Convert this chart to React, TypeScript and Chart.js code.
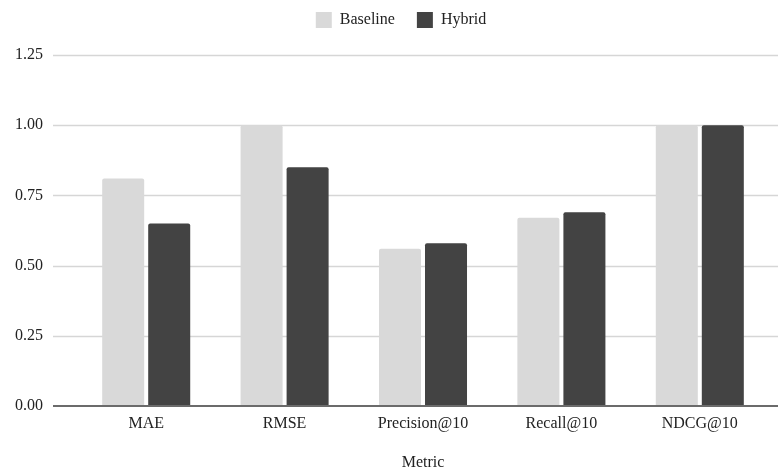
import React, { useEffect, useRef } from "react";
import { Chart, registerables } from "chart.js";

Chart.register(...registerables);

const categories = ["MAE", "RMSE", "Precision@10", "Recall@10", "NDCG@10"];
const baselineValues = [0.81, 1.0, 0.56, 0.67, 1.0];
const hybridValues = [0.65, 0.85, 0.58, 0.69, 1.0];
const seriesNames = ["Baseline", "Hybrid"];
const yMin = 0;
const yMax = 1.25;
const yStep = 0.25;
const xTitle = "Metric";

const FONT = "'Liberation Serif', 'Times New Roman', serif";

const gridPlugin = {
  id: "extendedGrid",
  beforeInit(chart: any) {
    const legend = chart.legend;
    if (legend) {
      const origFit = legend.fit;
      legend.fit = function (this: any) {
        origFit.call(this);
        this.height += 17;
      };
    }
  },
  afterLayout(chart: any) {
    if (chart.legend) {
      chart.legend.left += 33;
    }
  },
  beforeDatasetsDraw(chart: any) {
    const { ctx, chartArea } = chart;
    const y = chart.scales.y;
    const x0 = chartArea.left - 24;
    const x1 = chartArea.right + 9;
    ctx.save();
    ctx.strokeStyle = "#d6d6d6";
    ctx.lineWidth = 1.5;
    y.ticks.forEach((t: any) => {
      if (t.value === 0) return;
      const py = Math.round(y.getPixelForValue(t.value)) + 0.5;
      ctx.beginPath();
      ctx.moveTo(x0, py);
      ctx.lineTo(x1, py);
      ctx.stroke();
    });
    ctx.restore();
  },
  afterDatasetsDraw(chart: any) {
    const { ctx, chartArea } = chart;
    const y = chart.scales.y;
    const x0 = chartArea.left - 24;
    const x1 = chartArea.right + 9;
    const py = y.getPixelForValue(0);
    ctx.save();
    ctx.strokeStyle = "#6b6b6b";
    ctx.lineWidth = 2;
    ctx.beginPath();
    ctx.moveTo(x0, py);
    ctx.lineTo(x1, py);
    ctx.stroke();
    ctx.restore();
  },
};

export default function App() {
  const ref = useRef<HTMLCanvasElement>(null);

  useEffect(() => {
    document.body.style.margin = "0";
    const canvas = ref.current!;
    const chart = new Chart(canvas, {
      type: "bar",
      data: {
        labels: categories,
        datasets: [
          {
            label: seriesNames[0],
            data: baselineValues,
            backgroundColor: "#d9d9d9",
            borderRadius: 2,
            borderSkipped: "bottom",
          },
          {
            label: seriesNames[1],
            data: hybridValues,
            backgroundColor: "#434343",
            borderRadius: 2,
            borderSkipped: "bottom",
          },
        ],
      },
      options: {
        responsive: false,
        animation: false,
        devicePixelRatio: 1,
        categoryPercentage: 0.665,
        barPercentage: 0.913,
        layout: { padding: { left: 0, right: 10, top: -10, bottom: 0 } },
        plugins: {
          legend: {
            display: true,
            position: "top",
            labels: {
              font: { family: FONT, size: 16 },
              color: "#222",
              boxWidth: 16,
              boxHeight: 16,
              padding: 22,
            },
          },
          tooltip: { enabled: false },
        },
        scales: {
          x: {
            grid: { display: false, drawTicks: false },
            border: { display: false },
            ticks: {
              font: { family: FONT, size: 16 },
              color: "#222",
              padding: 8,
              maxRotation: 0,
            },
            title: {
              display: true,
              text: xTitle,
              font: { family: FONT, size: 16 },
              color: "#222",
              padding: { top: 0, bottom: 0 },
            },
            afterFit: (s: any) => {
              s.height = 66;
            },
          },
          y: {
            min: yMin,
            max: yMax,
            grid: { display: false, drawTicks: false },
            border: { display: false },
            ticks: {
              stepSize: yStep,
              font: { family: FONT, size: 16 },
              color: "#222",
              padding: 34,
              callback: (v: any) => Number(v).toFixed(2),
            },
            afterFit: (s: any) => {
              s.width = 77;
            },
          },
        },
      },
      plugins: [gridPlugin],
    });
    return () => chart.destroy();
  }, []);

  return (
    <div style={{ width: 779, height: 472, background: "#fff" }}>
      <canvas ref={ref} width={779} height={472} />
    </div>
  );
}
